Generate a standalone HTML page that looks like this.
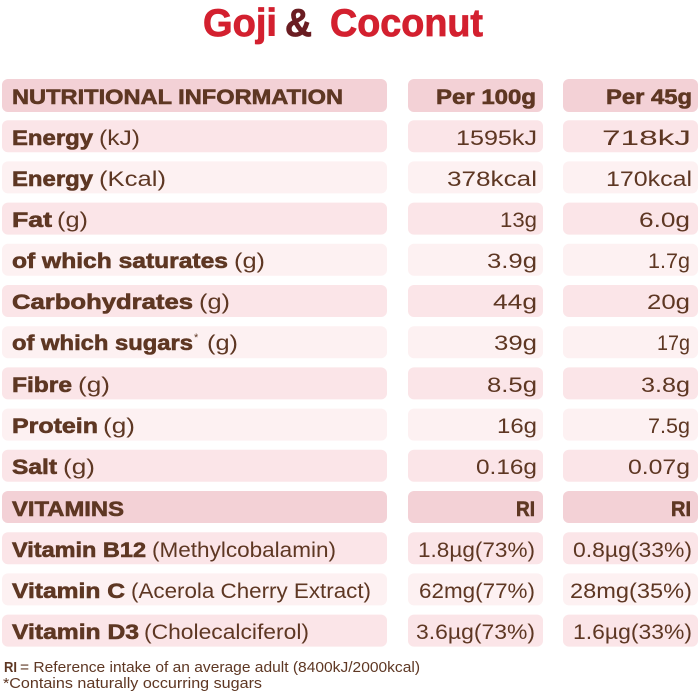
<!DOCTYPE html>
<html><head><meta charset="utf-8"><style>
html,body{margin:0;padding:0;background:#fff;}
svg{display:block;}
text{font-family:"Liberation Sans",sans-serif;fill:#5e3723;}
.b{font-weight:bold;font-size:21px;stroke:#5e3723;stroke-width:0.6px;}
.r{font-size:21px;}
</style></head><body>
<svg width="700" height="700" viewBox="0 0 700 700" xmlns="http://www.w3.org/2000/svg">
<rect width="700" height="700" fill="#fff"/>
<!-- title -->
<text x="203" y="36" style="font-weight:bold;font-size:39px;fill:#d3202f;stroke:#d3202f;stroke-width:0.8px" textLength="74" lengthAdjust="spacingAndGlyphs">Goji</text>
<text x="285" y="36" style="font-weight:bold;font-size:39px;fill:#6a1d22;stroke:#6a1d22;stroke-width:0.8px" textLength="27" lengthAdjust="spacingAndGlyphs">&amp;</text>
<text x="330" y="36" style="font-weight:bold;font-size:39px;fill:#d3202f;stroke:#d3202f;stroke-width:0.8px" textLength="153" lengthAdjust="spacingAndGlyphs">Coconut</text>

<!-- row backgrounds -->
<g>
<rect x="2" y="79" width="385" height="33" rx="6" fill="#f3d1d6"/><rect x="408" y="79" width="135" height="33" rx="6" fill="#f3d1d6"/><rect x="563" y="79" width="135" height="33" rx="6" fill="#f3d1d6"/>
<rect x="2" y="120.2" width="385" height="32" rx="6" fill="#fbe5e8"/><rect x="408" y="120.2" width="135" height="32" rx="6" fill="#fbe5e8"/><rect x="563" y="120.2" width="135" height="32" rx="6" fill="#fbe5e8"/>
<rect x="2" y="161.4" width="385" height="32" rx="6" fill="#fdf1f2"/><rect x="408" y="161.4" width="135" height="32" rx="6" fill="#fdf1f2"/><rect x="563" y="161.4" width="135" height="32" rx="6" fill="#fdf1f2"/>
<rect x="2" y="202.6" width="385" height="32" rx="6" fill="#fbe5e8"/><rect x="408" y="202.6" width="135" height="32" rx="6" fill="#fbe5e8"/><rect x="563" y="202.6" width="135" height="32" rx="6" fill="#fbe5e8"/>
<rect x="2" y="243.8" width="385" height="32" rx="6" fill="#fdf1f2"/><rect x="408" y="243.8" width="135" height="32" rx="6" fill="#fdf1f2"/><rect x="563" y="243.8" width="135" height="32" rx="6" fill="#fdf1f2"/>
<rect x="2" y="285" width="385" height="32" rx="6" fill="#fbe5e8"/><rect x="408" y="285" width="135" height="32" rx="6" fill="#fbe5e8"/><rect x="563" y="285" width="135" height="32" rx="6" fill="#fbe5e8"/>
<rect x="2" y="326.2" width="385" height="32" rx="6" fill="#fdf1f2"/><rect x="408" y="326.2" width="135" height="32" rx="6" fill="#fdf1f2"/><rect x="563" y="326.2" width="135" height="32" rx="6" fill="#fdf1f2"/>
<rect x="2" y="367.4" width="385" height="32" rx="6" fill="#fbe5e8"/><rect x="408" y="367.4" width="135" height="32" rx="6" fill="#fbe5e8"/><rect x="563" y="367.4" width="135" height="32" rx="6" fill="#fbe5e8"/>
<rect x="2" y="408.6" width="385" height="32" rx="6" fill="#fdf1f2"/><rect x="408" y="408.6" width="135" height="32" rx="6" fill="#fdf1f2"/><rect x="563" y="408.6" width="135" height="32" rx="6" fill="#fdf1f2"/>
<rect x="2" y="449.8" width="385" height="32" rx="6" fill="#fbe5e8"/><rect x="408" y="449.8" width="135" height="32" rx="6" fill="#fbe5e8"/><rect x="563" y="449.8" width="135" height="32" rx="6" fill="#fbe5e8"/>
<rect x="2" y="491" width="385" height="32" rx="6" fill="#f3d1d6"/><rect x="408" y="491" width="135" height="32" rx="6" fill="#f3d1d6"/><rect x="563" y="491" width="135" height="32" rx="6" fill="#f3d1d6"/>
<rect x="2" y="532.2" width="385" height="32" rx="6" fill="#fbe5e8"/><rect x="408" y="532.2" width="135" height="32" rx="6" fill="#fbe5e8"/><rect x="563" y="532.2" width="135" height="32" rx="6" fill="#fbe5e8"/>
<rect x="2" y="573.4" width="385" height="32" rx="6" fill="#fdf1f2"/><rect x="408" y="573.4" width="135" height="32" rx="6" fill="#fdf1f2"/><rect x="563" y="573.4" width="135" height="32" rx="6" fill="#fdf1f2"/>
<rect x="2" y="614.6" width="385" height="32" rx="6" fill="#fbe5e8"/><rect x="408" y="614.6" width="135" height="32" rx="6" fill="#fbe5e8"/><rect x="563" y="614.6" width="135" height="32" rx="6" fill="#fbe5e8"/>
</g>

<!-- left labels -->
<text class="b" x="12" y="104" textLength="331" lengthAdjust="spacingAndGlyphs">NUTRITIONAL INFORMATION</text>
<text class="b" x="12" y="145" textLength="81" lengthAdjust="spacingAndGlyphs">Energy</text><text class="r" x="99" y="145" textLength="41" lengthAdjust="spacingAndGlyphs">(kJ)</text>
<text class="b" x="12" y="186" textLength="81" lengthAdjust="spacingAndGlyphs">Energy</text><text class="r" x="99" y="186" textLength="67" lengthAdjust="spacingAndGlyphs">(Kcal)</text>
<text class="b" x="12" y="227" textLength="40" lengthAdjust="spacingAndGlyphs">Fat</text><text class="r" x="57" y="227" textLength="31" lengthAdjust="spacingAndGlyphs">(g)</text>
<text class="b" x="12" y="268" textLength="216" lengthAdjust="spacingAndGlyphs">of which saturates</text><text class="r" x="234" y="268" textLength="31" lengthAdjust="spacingAndGlyphs">(g)</text>
<text class="b" x="12" y="309" textLength="181" lengthAdjust="spacingAndGlyphs">Carbohydrates</text><text class="r" x="199" y="309" textLength="31" lengthAdjust="spacingAndGlyphs">(g)</text>
<text class="b" x="12" y="350" textLength="181" lengthAdjust="spacingAndGlyphs">of which sugars</text><text x="194" y="341" style="font-size:11px">*</text><text class="r" x="207" y="350" textLength="31" lengthAdjust="spacingAndGlyphs">(g)</text>
<text class="b" x="12" y="392" textLength="60" lengthAdjust="spacingAndGlyphs">Fibre</text><text class="r" x="78" y="392" textLength="32" lengthAdjust="spacingAndGlyphs">(g)</text>
<text class="b" x="12" y="433" textLength="86" lengthAdjust="spacingAndGlyphs">Protein</text><text class="r" x="103" y="433" textLength="32" lengthAdjust="spacingAndGlyphs">(g)</text>
<text class="b" x="12" y="474" textLength="45" lengthAdjust="spacingAndGlyphs">Salt</text><text class="r" x="63" y="474" textLength="32" lengthAdjust="spacingAndGlyphs">(g)</text>
<text class="b" x="12" y="516" textLength="112" lengthAdjust="spacingAndGlyphs">VITAMINS</text>
<text class="b" x="12" y="557" textLength="134" lengthAdjust="spacingAndGlyphs">Vitamin B12</text><text class="r" x="152" y="557" textLength="184" lengthAdjust="spacingAndGlyphs">(Methylcobalamin)</text>
<text class="b" x="12" y="598" textLength="113" lengthAdjust="spacingAndGlyphs">Vitamin C</text><text class="r" x="131" y="598" textLength="240" lengthAdjust="spacingAndGlyphs">(Acerola Cherry Extract)</text>
<text class="b" x="12" y="639" textLength="127" lengthAdjust="spacingAndGlyphs">Vitamin D3</text><text class="r" x="144" y="639" textLength="165" lengthAdjust="spacingAndGlyphs">(Cholecalciferol)</text>

<!-- column 2 -->
<g text-anchor="end">
<text class="b" x="536" y="104" textLength="100" lengthAdjust="spacingAndGlyphs">Per 100g</text>
<text class="r" x="537" y="145" textLength="81" lengthAdjust="spacingAndGlyphs">1595kJ</text>
<text class="r" x="537" y="186" textLength="90" lengthAdjust="spacingAndGlyphs">378kcal</text>
<text class="r" x="537" y="227" textLength="37" lengthAdjust="spacingAndGlyphs">13g</text>
<text class="r" x="537" y="268" textLength="50" lengthAdjust="spacingAndGlyphs">3.9g</text>
<text class="r" x="537" y="309" textLength="44" lengthAdjust="spacingAndGlyphs">44g</text>
<text class="r" x="537" y="350" textLength="43" lengthAdjust="spacingAndGlyphs">39g</text>
<text class="r" x="537" y="392" textLength="50" lengthAdjust="spacingAndGlyphs">8.5g</text>
<text class="r" x="537" y="433" textLength="40" lengthAdjust="spacingAndGlyphs">16g</text>
<text class="r" x="537" y="474" textLength="61" lengthAdjust="spacingAndGlyphs">0.16g</text>
<text class="b" x="535" y="516" textLength="19" lengthAdjust="spacingAndGlyphs">RI</text>
<text class="r" x="535" y="557" textLength="117" lengthAdjust="spacingAndGlyphs">1.8µg(73%)</text>
<text class="r" x="535" y="598" textLength="116" lengthAdjust="spacingAndGlyphs">62mg(77%)</text>
<text class="r" x="535" y="639" textLength="119" lengthAdjust="spacingAndGlyphs">3.6µg(73%)</text>
</g>
<!-- column 3 -->
<g text-anchor="end">
<text class="b" x="692" y="104" textLength="86" lengthAdjust="spacingAndGlyphs">Per 45g</text>
<text class="r" x="691" y="145" textLength="89" lengthAdjust="spacingAndGlyphs">718kJ</text>
<text class="r" x="692" y="186" textLength="86" lengthAdjust="spacingAndGlyphs">170kcal</text>
<text class="r" x="690" y="227" textLength="51" lengthAdjust="spacingAndGlyphs">6.0g</text>
<text class="r" x="690" y="268" textLength="42" lengthAdjust="spacingAndGlyphs">1.7g</text>
<text class="r" x="690" y="309" textLength="43" lengthAdjust="spacingAndGlyphs">20g</text>
<text class="r" x="690" y="350" textLength="33" lengthAdjust="spacingAndGlyphs">17g</text>
<text class="r" x="690" y="392" textLength="49" lengthAdjust="spacingAndGlyphs">3.8g</text>
<text class="r" x="690" y="433" textLength="42" lengthAdjust="spacingAndGlyphs">7.5g</text>
<text class="r" x="690" y="474" textLength="62" lengthAdjust="spacingAndGlyphs">0.07g</text>
<text class="b" x="691" y="516" textLength="20" lengthAdjust="spacingAndGlyphs">RI</text>
<text class="r" x="692" y="557" textLength="119" lengthAdjust="spacingAndGlyphs">0.8µg(33%)</text>
<text class="r" x="692" y="598" textLength="122" lengthAdjust="spacingAndGlyphs">28mg(35%)</text>
<text class="r" x="692" y="639" textLength="119" lengthAdjust="spacingAndGlyphs">1.6µg(33%)</text>
</g>

<!-- footer -->
<text x="4" y="672" style="font-weight:bold;font-size:14.5px" textLength="13" lengthAdjust="spacingAndGlyphs">RI</text>
<text x="20" y="672" style="font-size:14.5px" textLength="400" lengthAdjust="spacingAndGlyphs">= Reference intake of an average adult (8400kJ/2000kcal)</text>
<text x="3" y="688" style="font-size:14.5px" textLength="259" lengthAdjust="spacingAndGlyphs">*Contains naturally occurring sugars</text>
</svg>
</body></html>
